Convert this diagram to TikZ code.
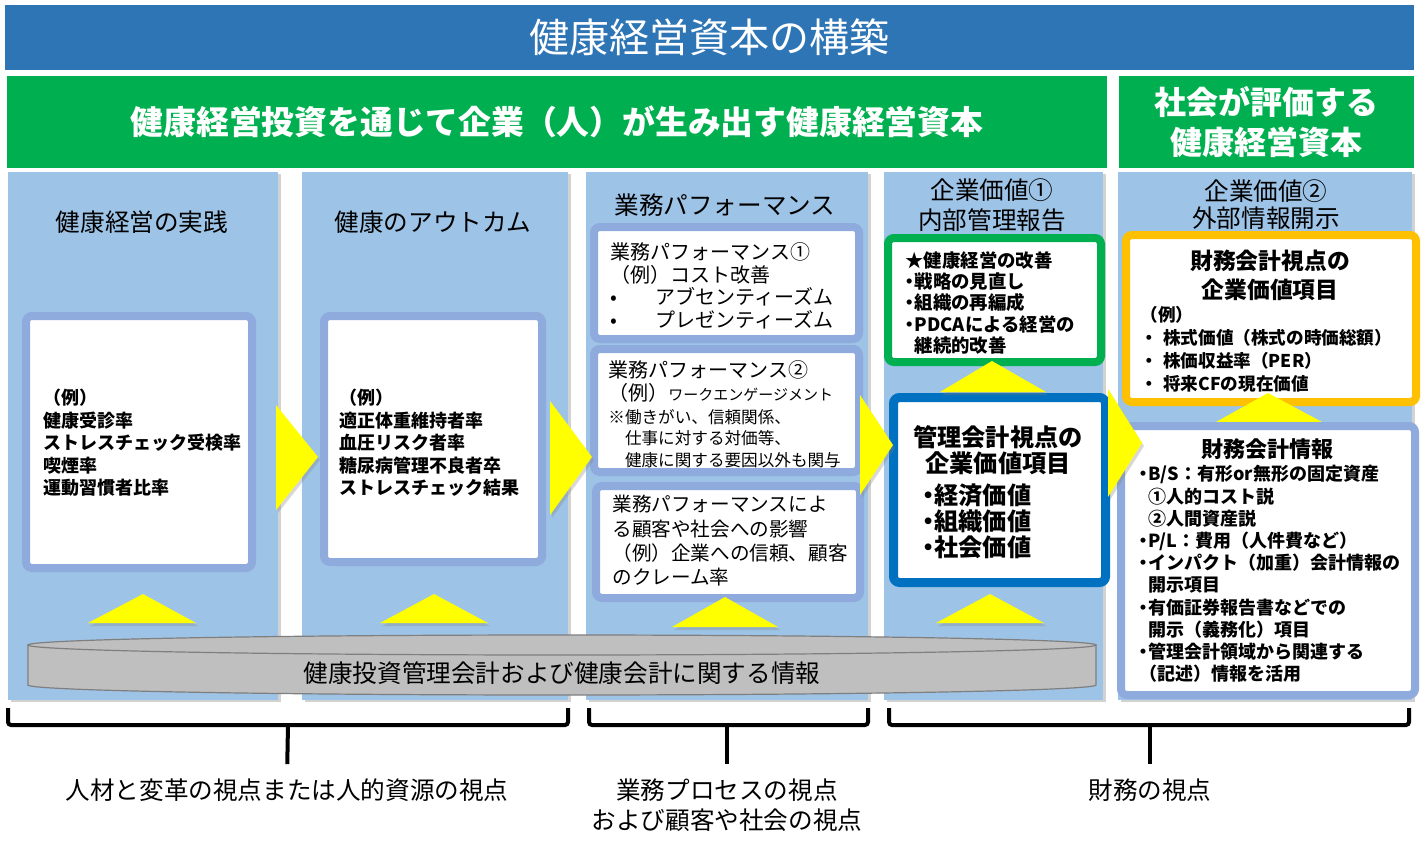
\documentclass[tikz,border=0pt]{standalone}
\usepackage{fontspec}
\setmainfont{Noto Sans CJK JP}
\usetikzlibrary{shadows, positioning}
\definecolor{titleblue}{HTML}{2E75B6}
\definecolor{bannergreen}{HTML}{00B050}
\definecolor{colblue}{HTML}{9DC3E6}
\definecolor{boxblue}{HTML}{8FAADC}
\definecolor{frameblue}{HTML}{0070C0}
\definecolor{frameorange}{HTML}{FFC000}
\definecolor{arrowyellow}{HTML}{FFFF00}
\definecolor{diskgray}{HTML}{BFBFBF}
\definecolor{diskedge}{HTML}{7F7F7F}
\newcommand{\fsz}[2]{\fontsize{#1}{#2}\selectfont}
\newcommand{\hdot}{\makebox[0.5em][c]{・}}

\begin{document}
\begin{tikzpicture}[x=0.5pt, y=-0.5pt,
    banner/.style={inner sep=0pt, text=white, align=center},
    column/.style={fill=colblue, drop shadow={shadow xshift=1.5pt, shadow yshift=-1pt, opacity=0.35}},
    colhead/.style={font=\fsz{12.3pt}{15pt}, align=center, inner sep=0pt},
    frame/.style={draw=boxblue, line width=4pt, fill=white, rounded corners=3pt},
    itemtext/.style={anchor=north west, align=left, inner sep=0pt},
    yellowtri/.style={fill=arrowyellow, drop shadow={shadow xshift=1pt, shadow yshift=-1.5pt, opacity=0.3}},
    bracket/.style={line width=2pt, rounded corners=1.5pt},
    viewlabel/.style={font=\fsz{12.3pt}{15pt}, align=center, inner sep=0pt}]

    \fill[white] (0,0) rectangle (1425,846);
    \useasboundingbox (0,0) rectangle (1425,846);

    % banners
    \node[banner, fill=titleblue, minimum width=704.5pt, minimum height=32.5pt, font=\fsz{20pt}{24pt}] (title) at (709.5,37.5) {健康経営資本の構築};
    \node[banner, fill=bannergreen, minimum width=550pt, minimum height=46pt, font=\bfseries\fsz{16.4pt}{20pt}] (capital) at (557,122) {健康経営投資を通じて企業（人）が生み出す健康経営資本};
    \node[banner, fill=bannergreen, minimum width=147.5pt, minimum height=46pt, font=\bfseries\fsz{16pt}{20pt}] (society) at (1266.5,122) {社会が評価する\\健康経営資本};

    % columns
    \fill[column] (8,172) rectangle (278,700);
    \fill[column] (302,172) rectangle (568,700);
    \fill[column] (586,172) rectangle (868,700);
    \fill[column] (884,172) rectangle (1103,700);
    \fill[column] (1118,172) rectangle (1412,700);

    \node[colhead] (practice) at (142,222) {健康経営の実践};
    \node[colhead] (outcome) at (433,222) {健康のアウトカム};
    \node[colhead] (perform) at (725,205) {業務パフォーマンス};
    \node[colhead] (value1) at (992,205) {企業価値①\\内部管理報告};
    \node[colhead, font=\fsz{12.3pt}{13.5pt}] (value2) at (1266,205) {企業価値②\\外部情報開示};

    % column 1 and 2
    \draw[frame] (26,316) rectangle (252,568);
    \node[itemtext, font=\bfseries\fsz{9pt}{11.25pt}] (practicelist) at (43,389) {（例）\\健康受診率\\ストレスチェック受検率\\喫煙率\\運動習慣者比率};
    \draw[frame] (324,316) rectangle (542,562);
    \node[itemtext, font=\bfseries\fsz{9pt}{11.25pt}] (outcomelist) at (339,389) {（例）\\適正体重維持者率\\血圧リスク者率\\糖尿病管理不良者卒\\ストレスチェック結果};

    % column 3
    \draw[frame] (594,227) rectangle (859,339);
    \node[itemtext, font=\fsz{10pt}{11.4pt}] (perf1) at (610,242) {業務パフォーマンス①\\（例）コスト改善\\\makebox[22.5pt][l]{•}アブセンティーズム\\\makebox[22.5pt][l]{•}プレゼンティーズム};
    \draw[frame] (594,349) rectangle (859,472);
    \node[itemtext, font=\fsz{10pt}{11.5pt}] (perf2) at (608,360) {業務パフォーマンス②\\（例）{\fsz{7.5pt}{9pt}ワークエンゲージメント}};
    \node[itemtext, font=\fsz{8.3pt}{10.75pt}] (perf2note) at (608,409) {※働きがい、信頼関係、\\\hspace*{1em}仕事に対する対価等、\\\hspace*{1em}健康に関する要因以外も関与};
    \draw[frame] (596,486) rectangle (860,598);
    \node[itemtext, font=\fsz{9.8pt}{12.15pt}] (perf3) at (612,495) {業務パフォーマンスによ\\る顧客や社会への影響\\（例）企業への信頼、顧客\\のクレーム率};

    % column 4
    \draw[frame, draw=bannergreen] (888,238) rectangle (1101,362);
    \node[itemtext, font=\bfseries\fsz{9.2pt}{10.65pt}] (improve) at (905,251) {★健康経営の改善\\\hdot 戦略の見直し\\\hdot 組織の再編成\\\hdot PDCAによる経営の\\\hspace*{0.5em}継続的改善};
    \draw[frame, draw=frameblue, line width=4.5pt] (893.5,397.5) rectangle (1105.5,582.5);
    \node[inner sep=0pt, anchor=north, align=center, font=\bfseries\fsz{12.1pt}{13pt}] (mgmt) at (998,425) {管理会計視点の\\企業価値項目};
    \node[itemtext, font=\bfseries\fsz{12.1pt}{13.2pt}] (mgmtlist) at (922,483) {\hdot 経済価値\\\hdot 組織価値\\\hdot 社会価値};

    % column 5
    \draw[frame, draw=frameorange] (1126,235) rectangle (1416,402);
    \node[inner sep=0pt, anchor=north, align=center, font=\bfseries\fsz{11.4pt}{14.4pt}] (fin) at (1270,250) {財務会計視点の\\企業価値項目};
    \node[itemtext, font=\bfseries\fsz{8.8pt}{11.5pt}] (finlist) at (1140,306) {（例）\\・\hspace{0.3em}株式価値（株式の時価総額）\\・\hspace{0.3em}株価収益率（PER）\\・\hspace{0.3em}将来CFの現在価値};
    \fill[yellowtri] (1216,422) -- (1268,393) -- (1322,422) -- cycle;
    \draw[frame] (1121,426) rectangle (1415,695);
    \node[inner sep=0pt, anchor=north, font=\bfseries\fsz{11pt}{13pt}] (info) at (1267,438) {財務会計情報};
    \node[itemtext, font=\bfseries\fsz{9pt}{11.1pt}] (infolist) at (1139,465) {\hdot B/S：有形or無形の固定資産\\\hspace*{0.5em}①人的コスト説\\\hspace*{0.5em}②人間資産説\\\hdot P/L：費用（人件費など）\\\hdot インパクト（加重）会計情報の\\\hspace*{0.5em}開示項目\\\hdot 有価証券報告書などでの\\\hspace*{0.5em}開示（義務化）項目\\\hdot 管理会計領域から関連する\\（記述）情報を活用};

    % information disk
    \draw[fill=diskgray, draw=diskedge, line width=0.6pt] (28,645) -- (28,685) arc[start angle=180, end angle=360, x radius=267pt, y radius=5pt] -- (1096,645) -- cycle;
    \draw[fill=diskgray, draw=diskedge, line width=0.6pt] (562,645) ellipse[x radius=267pt, y radius=5pt];
    \node[inner sep=0pt, font=\fsz{12.3pt}{15pt}] (disk) at (562,673) {健康投資管理会計および健康会計に関する情報};

    % yellow arrows
    \fill[yellowtri] (88,623) -- (143,594) -- (196,623) -- cycle;
    \fill[yellowtri] (380,623) -- (434,594) -- (488,623) -- cycle;
    \fill[yellowtri] (672,627) -- (725,597) -- (778,627) -- cycle;
    \fill[yellowtri] (936,623) -- (990,594) -- (1044,623) -- cycle;
    \fill[yellowtri] (940,392) -- (992,361) -- (1046,392) -- cycle;
    \fill[yellowtri] (276,405) -- (318,457) -- (276,510) -- cycle;
    \fill[yellowtri] (550,401) -- (592,457) -- (550,515) -- cycle;
    \fill[yellowtri] (860,395) -- (893,445) -- (860,495) -- cycle;
    \fill[yellowtri] (1108,389) -- (1142,443) -- (1108,497) -- cycle;

    % perspectives
    \node[viewlabel] (people) at (287,790) {人材と変革の視点または人的資源の視点};
    \node[viewlabel, anchor=north, font=\fsz{12.3pt}{15pt}] (process) at (727,778) {業務プロセスの視点\\および顧客や社会の視点};
    \node[viewlabel] (finance) at (1150,790) {財務の視点};

    \draw[bracket] (8,708) -- (8,725) -- (568,725) -- (568,708);
    \draw[bracket] (288,725) -- (people.north) [shorten >=7pt];
    \draw[bracket] (589,708) -- (589,725) -- (868,725) -- (868,708);
    \draw[bracket, shorten >=7pt] (727,725) -- (process.north);
    \draw[bracket] (889,708) -- (889,725) -- (1409,725) -- (1409,708);
    \draw[bracket, shorten >=7pt] (1150,725) -- (finance.north);
\end{tikzpicture}
\end{document}
